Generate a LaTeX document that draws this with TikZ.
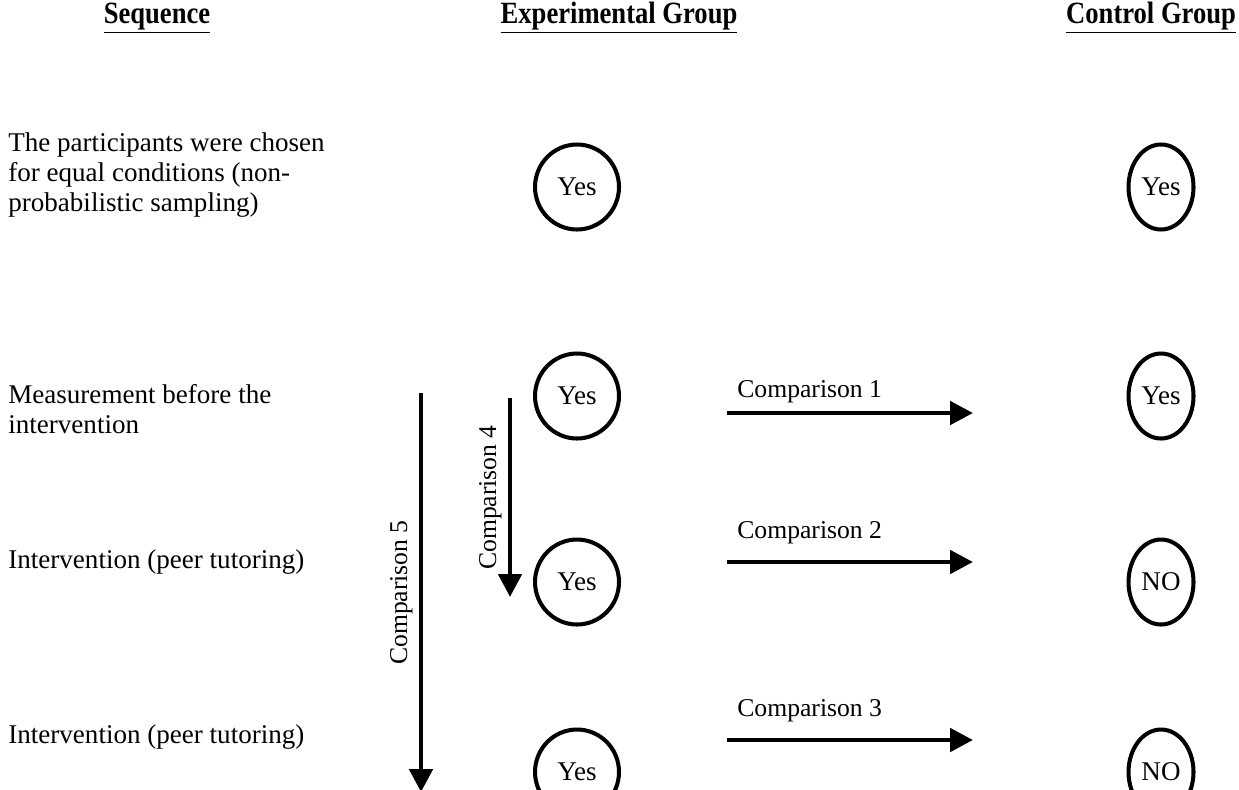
\documentclass[tikz,border=0pt]{standalone}
\usepackage{fontspec}
\setmainfont{Liberation Serif}
\newfontfamily\headfont[FakeStretch=0.86]{Liberation Serif}
\usetikzlibrary{shapes.geometric,arrows.meta}

\begin{document}
\begin{tikzpicture}[
  x=0.02cm, y=-0.02cm,
  every node/.style={font=\fontsize{15.4}{17}\selectfont},
  head/.style={font=\headfont\fontsize{17.6}{19}\selectfont\bfseries},
  seq/.style={anchor=west, align=left, inner sep=0pt},
  answer/.style={draw, ellipse, line width=2.3pt, minimum width=1.68cm, minimum height=1.7cm, inner sep=0pt},
  answerc/.style={answer, minimum width=1.3cm},
  label/.style={anchor=west, inner sep=0pt, font=\fontsize{14.6}{17}\selectfont},
  arrow/.style={-{Triangle[length=13pt,width=13pt]}, line width=2.8pt}
]
\useasboundingbox (0,0) rectangle (1239,789);
\clip (0,0) rectangle (1239,789);
% headings
\node[head] (hs) at (157,18) {\underline{Sequence}};
\node[head] (he) at (619,18) {\underline{Experimental Group}};
\node[head, anchor=east, inner sep=1pt] (hc) at (1238,18) {\underline{Control Group}};
% sequence column
\node[seq] (s1) at (8,175) {The participants were chosen\\for equal conditions (non-\\probabilistic sampling)};
\node[seq] (s2) at (8,409) {Measurement before the\\intervention};
\node[seq] (s3) at (8,562) {Intervention (peer tutoring)};
\node[seq] (s4) at (8,737) {Intervention (peer tutoring)};
% experimental group
\node[answer] (e1) at (577,187) {Yes};
\node[answer] (e2) at (577,396) {Yes};
\node[answer] (e3) at (577,582) {Yes};
\node[answer] (e4) at (577,772) {Yes};
% control group
\node[answerc] (c1) at (1161,187) {Yes};
\node[answerc] (c2) at (1161,396) {Yes};
\node[answerc] (c3) at (1161,582) {NO};
\node[answerc] (c4) at (1161,772) {NO};
% comparisons between groups
\coordinate (a1) at (727,413); \coordinate (b1) at (973,413);
\coordinate (a2) at (727,562); \coordinate (b2) at (973,562);
\coordinate (a3) at (727,740); \coordinate (b3) at (973,740);
\draw[arrow] (a1) -- (b1);
\draw[arrow] (a2) -- (b2);
\draw[arrow] (a3) -- (b3);
\node[label] (l1) at (737,392) {Comparison 1};
\node[label] (l2) at (737,533) {Comparison 2};
\node[label] (l3) at (737,711) {Comparison 3};
% comparisons over time
\coordinate (a4) at (510,398); \coordinate (b4) at (510,597);
\coordinate (a5) at (421,393); \coordinate (b5) at (421,792);
\draw[arrow] (a4) -- node[midway, rotate=90, above, font=\fontsize{14.6}{17}\selectfont] (l4) {Comparison 4} (b4);
\draw[arrow] (a5) -- node[midway, rotate=90, above, font=\fontsize{14.6}{17}\selectfont] (l5) {Comparison 5} (b5);
\end{tikzpicture}
\end{document}
